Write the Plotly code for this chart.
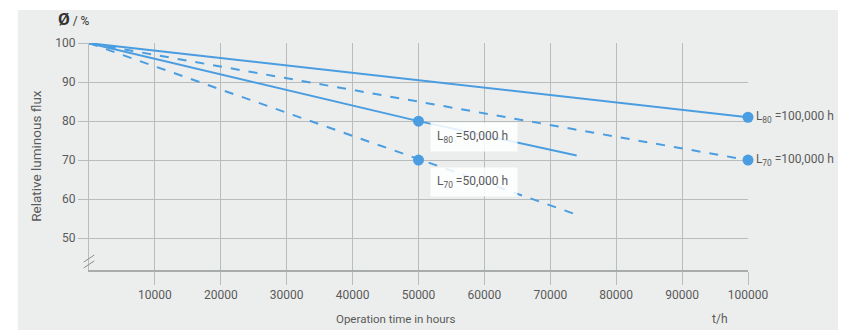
import plotly.graph_objects as go

hours_ticks = [10000, 20000, 30000, 40000, 50000, 60000, 70000, 80000, 90000, 100000]
flux_ticks = [50, 60, 70, 80, 90, 100]

l80_long_h = [0, 100000]
l80_long_flux = [100, 81]
l70_long_h = [0, 100000]
l70_long_flux = [100, 70]
l80_short_h = [0, 50000, 74000]
l80_short_flux = [100, 80, 71.2]
l70_short_h = [0, 74000]
l70_short_flux = [100, 56]

point_h = [50000, 50000, 100000, 100000]
point_flux = [80, 70, 81, 70]
point_labels = ["", "", "L<sub>80</sub> =100,000 h", "L<sub>70</sub> =100,000 h"]

BLUE = "#4a9de0"
GRID = "#b9bcbc"
BG = "#eceeed"
TEXT = "#5a5a5a"
FONT = "Roboto, sans-serif"

fig = go.Figure()
for xs, ys, dash in [
    (l80_long_h, l80_long_flux, "solid"),
    (l70_long_h, l70_long_flux, "dash"),
    (l80_short_h, l80_short_flux, "solid"),
    (l70_short_h, l70_short_flux, "dash"),
]:
    fig.add_trace(go.Scatter(x=xs, y=ys, mode="lines", line=dict(color=BLUE, width=2, dash=dash),
                             showlegend=False, cliponaxis=False))

fig.add_trace(go.Scatter(
    x=point_h, y=point_flux, mode="markers+text", text=point_labels, textposition="middle right",
    marker=dict(color=BLUE, size=11), textfont=dict(color=TEXT, size=12, family=FONT),
    showlegend=False, cliponaxis=False,
))

# boxed labels in the middle
for txt, xv, yv in [("L<sub>80</sub> =50,000 h ", 51700, 75.9), ("L<sub>70</sub> =50,000 h ", 51700, 64.4)]:
    fig.add_annotation(x=xv, y=yv, text=txt, showarrow=False, xanchor="left",
                       font=dict(color=TEXT, size=12, family=FONT),
                       bgcolor="rgba(255,255,255,0.85)", borderpad=6)

# grey card behind everything
fig.add_shape(type="rect", xref="paper", yref="paper", x0=-0.108, x1=1.2, y0=-0.4, y1=1.145,
              fillcolor=BG, line_width=0, layer="below")

# axis break marks
for y0, y1 in [(0.035, 0.066), (0.009, 0.040)]:
    fig.add_shape(type="line", xref="paper", yref="paper", x0=-0.008, x1=0.008, y0=y0, y1=y1,
                  line=dict(color="#8a8d8d", width=1))

fig.add_annotation(xref="paper", yref="paper", x=-0.05, y=1.16,
                   text="<span style='font-size:17px'><b>Ø</b></span> / %", showarrow=False,
                   font=dict(color="#333333", size=12, family=FONT))
fig.add_annotation(xref="paper", yref="paper", x=-0.096, y=0.502, text="Relative luminous flux", textangle=-90,
                   showarrow=False, font=dict(color=TEXT, size=13.5, family=FONT))
fig.add_annotation(xref="paper", yref="paper", x=0.465, y=-0.255, text="Operation time in hours", showarrow=False,
                   font=dict(color=TEXT, size=11.5, family=FONT))
fig.add_annotation(xref="paper", yref="paper", x=0.973, y=-0.255, text="t/h", showarrow=False,
                   font=dict(color=TEXT, size=12, family=FONT))

fig.update_xaxes(range=[0, 100000], tickvals=hours_ticks, ticktext=[str(v) for v in hours_ticks],
                 showgrid=True, gridcolor=GRID, gridwidth=1, zeroline=False,
                 showline=True, linecolor="#a9acac", linewidth=2,
                 ticks="outside", ticklen=13, tickcolor=GRID, tickwidth=1,
                 tickfont=dict(color=TEXT, size=12, family=FONT))
fig.update_yaxes(range=[41.8, 100.05], tickvals=flux_ticks, showgrid=True, gridcolor=GRID, gridwidth=1,
                 zeroline=False, showline=True, linecolor=GRID, linewidth=1,
                 ticks="outside", ticklen=10, tickcolor=GRID, tickwidth=1,
                 tickfont=dict(color=TEXT, size=12, family=FONT))

fig.update_layout(
    width=846, height=330,
    margin=dict(l=81, r=106, t=35, b=68),
    paper_bgcolor="white", plot_bgcolor=BG,
    showlegend=False,
)

fig.write_html("out.html")
